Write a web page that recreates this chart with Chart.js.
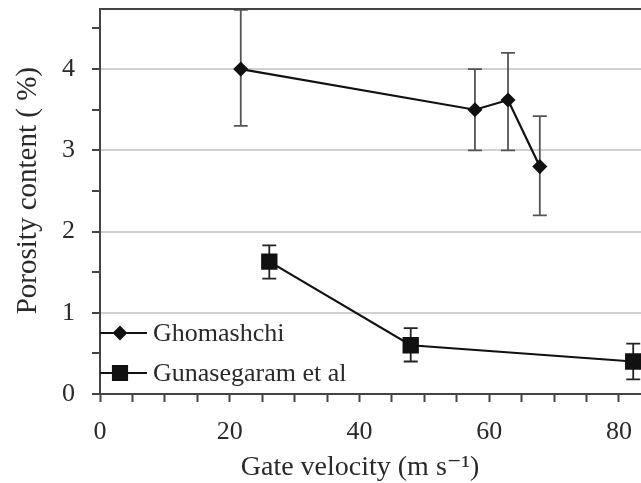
<!DOCTYPE html>
<html>
<head>
<meta charset="utf-8">
<script src="https://cdn.jsdelivr.net/npm/chart.js@4"></script>
<style>
  body { margin: 0; background: #fff; }
  canvas { display: block; }
</style>
</head>
<body>
<canvas id="chart" width="641" height="483"></canvas>
<script>
// Ghomashchi
const ghomX = [21.7, 57.8, 62.9, 67.8];
const ghomY = [4.0, 3.5, 3.62, 2.8];
const ghomLo = [3.3, 3.0, 3.0, 2.2];
const ghomHi = [4.73, 4.0, 4.2, 3.42];

// Gunasegaram et al
const gunaX = [26.1, 47.9, 82.2];
const gunaY = [1.63, 0.6, 0.4];
const gunaLo = [1.42, 0.4, 0.18];
const gunaHi = [1.83, 0.81, 0.62];

const seriesNames = ["Ghomashchi", "Gunasegaram et al"];
const xLabelValues = [0, 20, 40, 60, 80];
const yLabelValues = [0, 1, 2, 3, 4];

const serif = "'Liberation Serif', 'DejaVu Serif', serif";
const axisColor = "#444";
const textColor = "#2a2a2a";

function points(xs, ys) {
    return xs.map((x, i) => ({ x: x, y: ys[i] }));
}

// error bars drawn from the scales, behind the markers
const errorBars = {
    id: "errorBars",
    beforeDatasetsDraw(chart) {
        const ctx = chart.ctx;
        const xs = chart.scales.x, ys = chart.scales.y;
        const sets = [
            { x: ghomX, lo: ghomLo, hi: ghomHi, color: "#555" },
            { x: gunaX, lo: gunaLo, hi: gunaHi, color: "#222" }
        ];
        ctx.save();
        sets.forEach(s => {
            ctx.strokeStyle = s.color;
            ctx.lineWidth = 1.8;
            s.x.forEach((xv, i) => {
                const px = xs.getPixelForValue(xv);
                const top = ys.getPixelForValue(s.hi[i]);
                const bot = ys.getPixelForValue(s.lo[i]);
                ctx.beginPath();
                ctx.moveTo(px, top); ctx.lineTo(px, bot);
                ctx.moveTo(px - 7, top); ctx.lineTo(px + 7, top);
                ctx.moveTo(px - 7, bot); ctx.lineTo(px + 7, bot);
                ctx.stroke();
            });
        });
        ctx.restore();
    }
};

// top frame line and the legend inside the plot
const frameAndLegend = {
    id: "frameAndLegend",
    afterDraw(chart) {
        const ctx = chart.ctx;
        const a = chart.chartArea;
        ctx.save();
        ctx.strokeStyle = axisColor;
        ctx.lineWidth = 2;
        ctx.beginPath();
        ctx.moveTo(a.left, a.top);
        ctx.lineTo(a.right, a.top);
        ctx.stroke();

        const rows = [a.bottom - 61, a.bottom - 21];
        chart.data.datasets.forEach((ds, i) => {
            const y = rows[i];
            ctx.strokeStyle = "#111";
            ctx.lineWidth = 2;
            ctx.beginPath();
            ctx.moveTo(a.left, y);
            ctx.lineTo(a.left + 47, y);
            ctx.stroke();
            Chart.helpers.drawPoint(ctx, {
                pointStyle: ds.pointStyle,
                radius: ds.pointRadius,
                rotation: 0,
                borderWidth: 1
            }, a.left + 20, y);
            ctx.fillStyle = "#111";
            ctx.fill();
            ctx.fillStyle = textColor;
            ctx.font = "26px " + serif;
            ctx.textBaseline = "middle";
            ctx.textAlign = "left";
            ctx.fillText(ds.label, a.left + 53, y + 1);
        });
        ctx.restore();
    }
};

new Chart(document.getElementById("chart"), {
    type: "scatter",
    data: {
        datasets: [
            {
                label: seriesNames[0],
                data: points(ghomX, ghomY),
                showLine: true,
                borderColor: "#111",
                borderWidth: 2.2,
                backgroundColor: "#111",
                pointStyle: "rectRot",
                pointRadius: 6,
                pointHoverRadius: 6
            },
            {
                label: seriesNames[1],
                data: points(gunaX, gunaY),
                showLine: true,
                borderColor: "#111",
                borderWidth: 2.2,
                backgroundColor: "#111",
                pointStyle: "rect",
                pointRadius: 10,
                pointHoverRadius: 10
            }
        ]
    },
    options: {
        responsive: false,
        animation: false,
        layout: { autoPadding: false, padding: { top: 9, right: 0, left: 0, bottom: 0 } },
        plugins: {
            legend: { display: false },
            tooltip: { enabled: false }
        },
        scales: {
            x: {
                type: "linear",
                min: 0,
                max: 83.4,
                afterFit(scale) {
                    scale.height = 89;
                    scale.paddingLeft = 0;
                    scale.paddingRight = 0;
                },
                border: { color: axisColor, width: 2 },
                grid: {
                    drawOnChartArea: false,
                    tickLength: 8,
                    tickColor: axisColor,
                    tickWidth: 2
                },
                ticks: {
                    stepSize: 5,
                    includeBounds: false,
                    autoSkip: false,
                    maxRotation: 0,
                    padding: 15,
                    color: textColor,
                    font: { family: serif, size: 26 },
                    callback: v => xLabelValues.includes(v) ? String(v) : ""
                },
                title: {
                    display: true,
                    text: "Gate velocity (m s\u207B\u00B9)   ",
                    color: textColor,
                    font: { family: serif, size: 28 },
                    padding: { top: 2, bottom: -1 }
                }
            },
            y: {
                min: 0,
                max: 4.74,
                afterFit(scale) {
                    scale.width = 100;
                    scale.paddingTop = 0;
                    scale.paddingBottom = 0;
                },
                border: { color: axisColor, width: 2 },
                grid: {
                    tickLength: 8,
                    tickColor: axisColor,
                    tickWidth: 2,
                    color: c => (c.tick && c.tick.value > 0 && Number.isInteger(c.tick.value)) ? "#d0d0d0" : "rgba(0,0,0,0)",
                    lineWidth: 2
                },
                ticks: {
                    stepSize: 0.5,
                    includeBounds: false,
                    autoSkip: false,
                    padding: 17,
                    color: textColor,
                    font: { family: serif, size: 26 },
                    callback: v => yLabelValues.includes(v) ? String(v) : ""
                },
                title: {
                    display: true,
                    text: "   Porosity content ( %)",
                    color: textColor,
                    font: { family: serif, size: 29 },
                    padding: { top: 11, bottom: 4 }
                }
            }
        }
    },
    plugins: [errorBars, frameAndLegend]
});
</script>
</body>
</html>
